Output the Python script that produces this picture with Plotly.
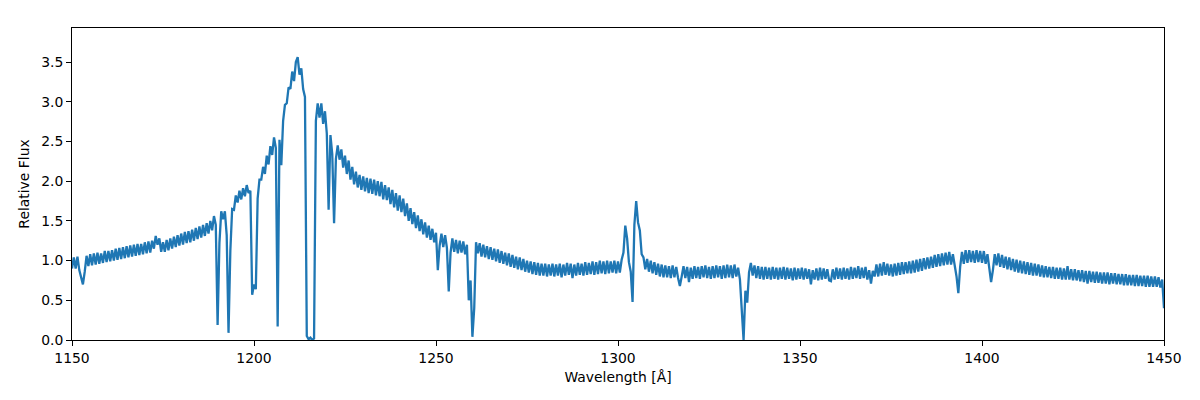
import numpy as np
import plotly.graph_objects as go

flux_1150_1200 = [
    0.90, 1.04, 0.90, 1.05, 0.88, 0.80, 0.70, 0.86, 1.06, 0.93,
    1.08, 0.94, 1.09, 0.95, 1.10, 0.96, 1.09, 0.97, 1.12, 0.98,
    1.12, 0.99, 1.13, 1.00, 1.15, 1.01, 1.16, 1.02, 1.17, 1.03,
    1.18, 1.04, 1.19, 1.05, 1.20, 1.06, 1.21, 1.07, 1.21, 1.08,
    1.23, 1.09, 1.24, 1.10, 1.25, 1.15, 1.31, 1.20, 1.28, 1.11,
    1.23, 1.11, 1.26, 1.13, 1.28, 1.15, 1.30, 1.17, 1.32, 1.19,
    1.34, 1.20, 1.36, 1.22, 1.37, 1.23, 1.39, 1.25, 1.41, 1.27,
    1.43, 1.29, 1.45, 1.31, 1.47, 1.34, 1.50, 1.38, 1.56, 1.45,
    0.19, 1.22, 1.62, 1.52, 1.62, 1.32, 0.09, 1.12, 1.65, 1.64,
    1.82, 1.73, 1.88, 1.77, 1.91, 1.81, 1.95, 1.85, 1.88, 0.57,
]
flux_1200_1250 = [
    0.70, 0.64, 1.78, 2.02, 2.02, 2.18, 2.09, 2.32, 2.21, 2.44,
    2.33, 2.55, 2.42, 0.17, 2.52, 2.20, 2.76, 2.96, 2.98, 3.18,
    3.16, 3.38, 3.26, 3.50, 3.56, 3.34, 3.42, 3.16, 3.06, 0.05,
    0.01, 0.03, 0.00, 0.02, 2.76, 2.98, 2.80, 2.98, 2.72, 2.88,
    2.60, 1.64, 2.58, 2.34, 1.47, 2.28, 2.45, 2.27, 2.40, 2.17,
    2.32, 2.09, 2.26, 2.02, 2.18, 1.96, 2.12, 1.92, 2.08, 1.89,
    2.06, 1.87, 2.04, 1.85, 2.03, 1.84, 2.02, 1.82, 2.00, 1.81,
    1.99, 1.77, 1.95, 1.76, 1.92, 1.71, 1.89, 1.67, 1.85, 1.63,
    1.82, 1.61, 1.78, 1.56, 1.72, 1.50, 1.66, 1.46, 1.61, 1.41,
    1.57, 1.37, 1.52, 1.33, 1.48, 1.29, 1.44, 1.26, 1.40, 1.23,
]
flux_1250_1300 = [
    1.35, 0.88, 1.19, 1.34, 1.17, 1.32, 1.16, 0.61, 1.10, 1.28,
    1.11, 1.26, 1.09, 1.25, 1.10, 1.24, 1.08, 1.20, 0.50, 0.75,
    0.04, 0.40, 1.23, 1.09, 1.22, 1.05, 1.20, 1.04, 1.18, 1.02,
    1.17, 1.01, 1.15, 0.99, 1.14, 0.97, 1.12, 0.96, 1.10, 0.94,
    1.09, 0.92, 1.07, 0.91, 1.05, 0.89, 1.04, 0.88, 1.02, 0.86,
    1.00, 0.85, 0.99, 0.83, 0.98, 0.82, 0.97, 0.81, 0.96, 0.81,
    0.96, 0.80, 0.95, 0.81, 0.96, 0.80, 0.95, 0.81, 0.96, 0.79,
    0.95, 0.81, 0.97, 0.82, 0.96, 0.78, 0.95, 0.81, 0.97, 0.82,
    0.96, 0.81, 0.98, 0.82, 0.97, 0.83, 0.99, 0.82, 0.98, 0.83,
    1.00, 0.84, 0.99, 0.83, 1.00, 0.84, 0.99, 0.85, 1.00, 0.84,
]
flux_1300_1350 = [
    0.99, 0.85, 1.01, 1.10, 1.44, 1.28, 0.98, 0.86, 0.48, 1.45,
    1.75, 1.48, 1.38, 1.08, 1.04, 0.89, 1.02, 0.86, 1.00, 0.84,
    0.98, 0.82, 0.96, 0.80, 0.95, 0.79, 0.94, 0.79, 0.93, 0.78,
    0.94, 0.79, 0.92, 0.78, 0.68, 0.80, 0.93, 0.78, 0.92, 0.73,
    0.91, 0.77, 0.93, 0.78, 0.92, 0.77, 0.93, 0.79, 0.94, 0.78,
    0.92, 0.77, 0.93, 0.78, 0.94, 0.79, 0.93, 0.77, 0.94, 0.78,
    0.95, 0.79, 0.94, 0.78, 0.95, 0.80, 0.91, 0.76, 0.35, 0.00,
    0.62, 0.47, 0.85, 0.97, 0.81, 0.94, 0.78, 0.93, 0.77, 0.92,
    0.76, 0.92, 0.77, 0.91, 0.76, 0.92, 0.77, 0.91, 0.76, 0.91,
    0.77, 0.92, 0.76, 0.91, 0.77, 0.90, 0.75, 0.91, 0.76, 0.90,
]
flux_1350_1400 = [
    0.77, 0.91, 0.76, 0.90, 0.77, 0.89, 0.70, 0.88, 0.76, 0.90,
    0.75, 0.91, 0.76, 0.90, 0.77, 0.89, 0.75, 0.74, 0.89, 0.76,
    0.91, 0.77, 0.90, 0.76, 0.91, 0.77, 0.90, 0.76, 0.92, 0.77,
    0.91, 0.78, 0.93, 0.77, 0.91, 0.78, 0.92, 0.76, 0.88, 0.71,
    0.87, 0.80, 0.95, 0.80, 0.96, 0.81, 0.98, 0.82, 0.96, 0.81,
    0.95, 0.80, 0.96, 0.81, 0.97, 0.82, 0.98, 0.83, 0.98, 0.84,
    0.99, 0.84, 1.00, 0.85, 1.01, 0.86, 1.02, 0.87, 1.03, 0.89,
    1.04, 0.90, 1.05, 0.91, 1.07, 0.92, 1.08, 0.93, 1.09, 0.94,
    1.10, 0.95, 1.11, 0.95, 1.08, 0.94, 0.80, 0.59, 0.92, 1.11,
    0.96, 1.13, 0.97, 1.13, 0.98, 1.12, 0.97, 1.13, 0.98, 1.12,
]
flux_1400_1450 = [
    0.97, 1.12, 0.96, 1.08, 0.92, 0.73, 0.88, 1.08, 0.94, 1.09,
    0.92, 1.07, 0.91, 1.05, 0.89, 1.04, 0.88, 1.02, 0.86, 1.01,
    0.85, 1.00, 0.84, 0.99, 0.83, 0.98, 0.82, 0.97, 0.81, 0.96,
    0.81, 0.95, 0.80, 0.94, 0.79, 0.93, 0.79, 0.92, 0.78, 0.92,
    0.77, 0.91, 0.77, 0.91, 0.76, 0.90, 0.76, 0.93, 0.76, 0.89,
    0.75, 0.89, 0.75, 0.88, 0.74, 0.88, 0.73, 0.87, 0.71, 0.87,
    0.73, 0.86, 0.72, 0.86, 0.72, 0.85, 0.71, 0.85, 0.71, 0.85,
    0.70, 0.84, 0.71, 0.84, 0.70, 0.83, 0.70, 0.83, 0.69, 0.83,
    0.69, 0.82, 0.69, 0.82, 0.68, 0.82, 0.68, 0.81, 0.68, 0.81,
    0.67, 0.81, 0.67, 0.80, 0.67, 0.80, 0.67, 0.79, 0.66, 0.76,
    0.40,
]

x_ticks = [1150, 1200, 1250, 1300, 1350, 1400, 1450]
y_ticks = [0.0, 0.5, 1.0, 1.5, 2.0, 2.5, 3.0, 3.5]
x_label = "Wavelength [Å]"
y_label = "Relative Flux"

flux = (flux_1150_1200 + flux_1200_1250 + flux_1250_1300 +
        flux_1300_1350 + flux_1350_1400 + flux_1400_1450)
wavelength = np.linspace(1150.0, 1450.0, len(flux))

FONT = "DejaVu Sans, Liberation Sans, sans-serif"

fig = go.Figure()
fig.add_trace(go.Scatter(
    x=wavelength, y=flux, mode="lines",
    line=dict(color="#1f77b4", width=2.3),
    showlegend=False, hoverinfo="skip",
))

axis_common = dict(
    showline=True, linecolor="black", linewidth=1, mirror=True,
    ticks="outside", ticklen=5, tickwidth=1, tickcolor="black",
    showgrid=False, zeroline=False,
    tickfont=dict(family=FONT, size=13.9, color="black"),
)

# page body has an 8px default margin: figure sized to fit inside it
fig.update_layout(
    width=1192, height=392,
    margin=dict(l=64, r=36, t=20, b=60, pad=0),
    paper_bgcolor="white", plot_bgcolor="white",
    font=dict(family=FONT, size=13.9, color="black"),
    xaxis=dict(range=[1150, 1450], tickvals=x_ticks,
               ticktext=[str(t) for t in x_ticks],
               title=dict(text=x_label, standoff=7,
                          font=dict(family=FONT, size=13.9, color="black")),
               **axis_common),
    yaxis=dict(range=[0, 3.928], tickvals=y_ticks,
               ticktext=[f"{t:.1f}" for t in y_ticks],
               title=dict(text=y_label, standoff=8,
                          font=dict(family=FONT, size=13.9, color="black")),
               **axis_common),
)

fig.write_html("out.html")
